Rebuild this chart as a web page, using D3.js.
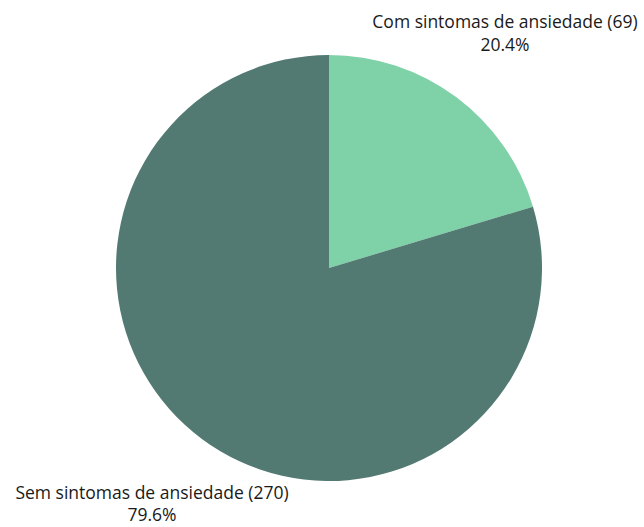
<!DOCTYPE html>
<html>
<head>
<meta charset="utf-8">
<script src="https://cdn.jsdelivr.net/npm/d3@7"></script>
<style>
  html, body { margin: 0; padding: 0; background: #ffffff; }
  svg { display: block; }
  text { font-family: "Open Sans", "Noto Sans", sans-serif; fill: #1a1a1a; font-weight: 500; }
</style>
</head>
<body>
<svg id="chart" width="644" height="527"></svg>
<script>
// Survey counts by anxiety-symptom group
const categories = ["Com sintomas de ansiedade", "Sem sintomas de ansiedade"];
const counts = [69, 270];
const colors = ["#7fd1a8", "#527a72"];

const width = 644, height = 527;
const cx = 329, cy = 268, radius = 213;

const svg = d3.select("#chart");
const total = d3.sum(counts);
const data = categories.map((c, i) => ({ name: c, value: counts[i], color: colors[i] }));

const pie = d3.pie().value(d => d.value).sort(null);
const arc = d3.arc().innerRadius(0).outerRadius(radius);
const arcs = pie(data);

const g = svg.append("g").attr("transform", `translate(${cx},${cy})`);
g.selectAll("path")
  .data(arcs)
  .join("path")
  .attr("d", arc)
  .attr("fill", d => d.data.color);

// Labels placed outside the slices
const labelPos = [
  { x: 505, y1: 28, y2: 51 },
  { x: 152, y1: 499, y2: 521 }
];
arcs.forEach((a, i) => {
  const p = labelPos[i];
  const pct = (a.data.value / total * 100).toFixed(1) + "%";
  svg.append("text")
    .attr("x", p.x).attr("y", p.y1)
    .attr("text-anchor", "middle")
    .attr("font-size", 17.5)
    .text(`${a.data.name} (${a.data.value})`);
  svg.append("text")
    .attr("x", p.x).attr("y", p.y2)
    .attr("text-anchor", "middle")
    .attr("font-size", 17.5)
    .text(pct);
});
</script>
</body>
</html>
